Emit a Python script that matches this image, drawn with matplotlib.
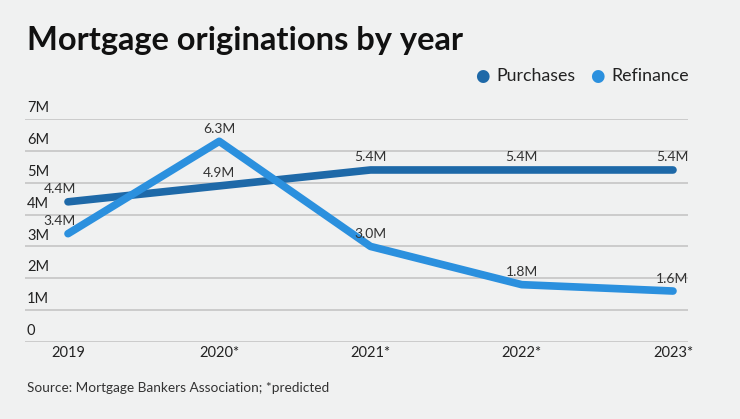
import numpy as np
from matplotlib import pyplot as plt
from matplotlib import transforms

years = ['2019', '2020*', '2021*', '2022*', '2023*']
purchases = [4.4, 4.9, 5.4, 5.4, 5.4]
refinance = [3.4, 6.3, 3.0, 1.8, 1.6]
purchase_labels = ['4.4M', '4.9M', '5.4M', '5.4M', '5.4M']
refinance_labels = ['3.4M', '6.3M', '3.0M', '1.8M', '1.6M']
y_ticks = [0, 1, 2, 3, 4, 5, 6, 7]
y_tick_labels = ['0', '1M', '2M', '3M', '4M', '5M', '6M', '7M']

bg = '#f0f1f1'
dark_blue = '#1e69a8'
light_blue = '#2b90de'
font = 'Lato'

W, H = 740, 419
fig = plt.figure(figsize=(W / 100, H / 100), dpi=100)
fig.patch.set_facecolor(bg)

# axes placed in pixel terms
ax = fig.add_axes([25 / W, 1 - 342 / H, (688 - 25) / W, (342 - 119) / H])
ax.set_facecolor(bg)
x = np.arange(len(years))
ax.set_xlim(-43 / 151.25, 4 + 15 / 151.25)
ax.set_ylim(0, 7)

for s in ax.spines.values():
    s.set_visible(False)
ax.set_yticks(y_ticks)
ax.set_yticklabels([])
ax.tick_params(axis='both', length=0)
ax.grid(axis='y', color='#c2c2c2', linewidth=1.1)
ax.set_axisbelow(True)

ax.set_xticks(x)
ax.set_xticklabels(years, fontsize=10.5, family=font, color='#222222')
ax.tick_params(axis='x', pad=3)

# y labels sit above the gridlines
trans = transforms.blended_transform_factory(ax.transAxes, ax.transData)
for v, lab in zip(y_ticks, y_tick_labels):
    ax.text(0.003, v + 0.12, lab, transform=trans, ha='left', va='bottom',
            fontsize=10.5, family=font, color='#222222')

# lines
ax.plot(x, purchases, color=dark_blue, linewidth=5.5, solid_capstyle='round',
        solid_joinstyle='round', zorder=3)
ax.plot(x, refinance, color=light_blue, linewidth=5.5, solid_capstyle='round',
        solid_joinstyle='round', zorder=4)

def label_points(vals, labels):
    for i, (v, lab) in enumerate(zip(vals, labels)):
        ha, dx = 'center', 0
        if i == 0:
            dx = -6
        if i == len(vals) - 1:
            ha, dx = 'right', 11
        ax.annotate(lab, (i, v), xytext=(dx, 9), textcoords='offset points',
                    ha=ha, va='center', fontsize=10, family=font,
                    color='#333333', zorder=5)

label_points(purchases, purchase_labels)
label_points(refinance, refinance_labels)

# title, legend, source
fig.text(27 / W, 1 - 50 / H, 'Mortgage originations by year', fontsize=23.5,
         fontweight='bold', family=font, color='#111111', ha='left', va='baseline')

fig.text(482 / W, 1 - 76 / H, '\u25cf', color=dark_blue, fontsize=12,
         ha='center', va='center', family='DejaVu Sans')
fig.text(496 / W, 1 - 76 / H, 'Purchases', fontsize=12.8, family=font,
         color='#222222', ha='left', va='center')
fig.text(597 / W, 1 - 76 / H, '\u25cf', color=light_blue, fontsize=12,
         ha='center', va='center', family='DejaVu Sans')
fig.text(611 / W, 1 - 76 / H, 'Refinance', fontsize=12.8, family=font,
         color='#222222', ha='left', va='center')

fig.text(27 / W, 1 - 388 / H, 'Source: Mortgage Bankers Association; *predicted',
         fontsize=9.8, family=font, color='#333333', ha='left', va='center')

fig.savefig('out.png', dpi=100, facecolor=bg)
